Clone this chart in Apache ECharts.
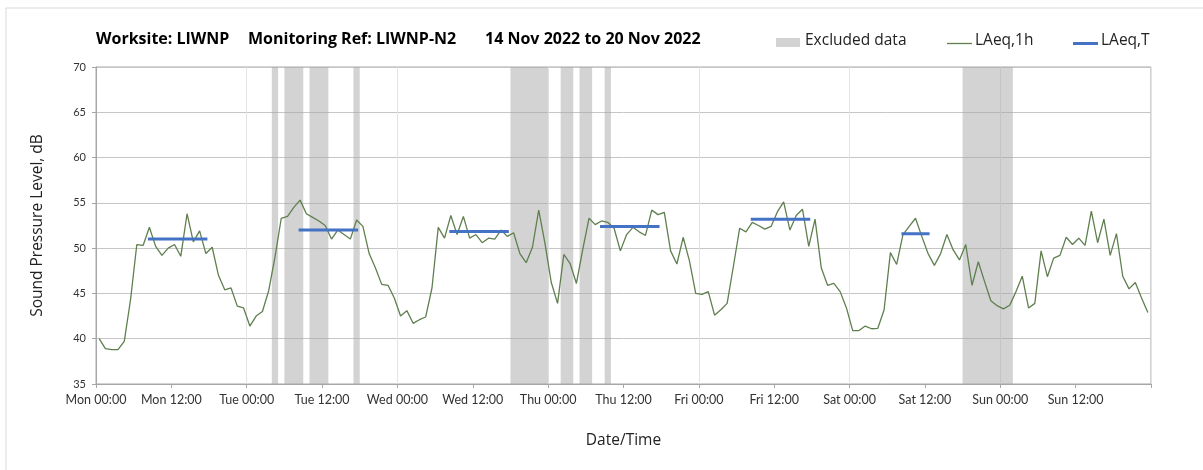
<!DOCTYPE html>
<html>
<head>
<meta charset="utf-8">
<script src="https://cdn.jsdelivr.net/npm/echarts@6/dist/echarts.min.js"></script>
<style>
html,body{margin:0;padding:0;background:#fff;}
#chart{width:1203px;height:470px;}
</style>
</head>
<body>
<div id="chart"></div>
<script>
// ---- data ----
const tickLabels = ['Mon 00:00','Mon 12:00','Tue 00:00','Tue 12:00','Wed 00:00','Wed 12:00',
  'Thu 00:00','Thu 12:00','Fri 00:00','Fri 12:00','Sat 00:00','Sat 12:00','Sun 00:00','Sun 12:00'];

// hourly LAeq,1h values, hour 0 = Mon 00:00-01:00
const laeq1h = [
  40.0,38.9,38.8,38.8,39.7,44.3,50.4,50.3,52.3,50.2,49.2,50.0,50.4,49.1,53.8,50.7,51.9,49.4,50.1,47.0,45.4,45.6,43.6,43.4,
  41.4,42.5,43.0,45.3,49.0,53.3,53.5,54.5,55.3,53.8,53.4,53.0,52.5,51.0,52.0,51.5,51.0,53.1,52.4,49.4,47.8,46.0,45.9,44.5,
  42.5,43.1,41.7,42.1,42.4,45.6,52.3,51.1,53.6,51.5,53.5,51.1,51.5,50.6,51.1,51.0,52.0,51.3,51.7,49.4,48.4,50.1,54.2,50.5,
  46.2,43.9,49.3,48.3,46.1,49.8,53.3,52.6,53.0,52.85,52.2,49.7,51.5,52.3,51.8,51.4,54.2,53.7,53.95,49.7,48.25,51.2,48.6,45.0,
  44.9,45.2,42.6,43.2,43.9,48.0,52.2,51.8,52.85,52.5,52.1,52.4,54.0,55.1,52.0,53.6,54.3,50.2,53.2,47.8,45.9,46.1,45.2,43.4,
  40.9,40.9,41.4,41.1,41.15,43.2,49.5,48.2,51.5,52.4,53.3,51.3,49.4,48.1,49.4,51.5,49.8,48.7,50.4,45.9,48.5,46.3,44.2,43.65,
  43.3,43.7,45.2,46.9,43.4,43.9,49.7,46.85,48.9,49.2,51.2,50.4,51.1,50.3,54.1,50.6,53.2,49.2,51.6,46.9,45.5,46.2,44.5,42.9
];

// LAeq,T periods (first and last hour index) and levels
const ltStartHour = [8, 32, 56, 80, 104, 128];
const ltEndHour   = [17, 41, 65, 89, 113, 132];
const ltValues    = [51.0, 52.0, 51.85, 52.4, 53.2, 51.6];

// Excluded data periods (hours from Mon 00:00)
const exclStart = [28, 30, 34, 41, 66, 74, 77, 81, 138];
const exclEnd   = [29, 33, 37, 42, 72, 76, 79, 82, 146];

// title parts
const titleParts = ['Worksite: LIWNP', 'Monitoring Ref: LIWNP-N2', '14 Nov 2022 to 20 Nov 2022'];
const legendNames = ['Excluded data', 'LAeq,1h', 'LAeq,T'];

// ---- build ----
const FONT = '"Open Sans", Lato, sans-serif';
const LFONT = 'Lato, "Open Sans", sans-serif';
const GREEN = '#5f7f4f', BLUE = '#4472c4', GREY = '#d3d3d3';
const lineData = laeq1h.map((v, h) => [h + 0.5, v]);
const markAreas = exclStart.map((s, i) => [{ xAxis: s }, { xAxis: exclEnd[i] }]);

const series = [
  {
    name: legendNames[0], type: 'line', data: [], color: GREY,
    markArea: { silent: true, itemStyle: { color: 'rgba(168,168,168,0.5)' }, data: markAreas },
    z: 1
  },
  {
    name: legendNames[1], type: 'line', data: lineData, showSymbol: false, symbol: 'none',
    color: GREEN, lineStyle: { width: 1.3, color: GREEN }, z: 3
  }
];
ltValues.forEach((v, i) => {
  series.push({
    name: legendNames[2], type: 'line', symbol: 'none', showSymbol: false,
    color: BLUE, lineStyle: { width: 3, color: BLUE, cap: 'square' },
    data: [[ltStartHour[i] + 0.5, v], [ltEndHour[i] + 0.5, v]], z: 4
  });
});

const titleX = [96, 248, 485];
const graphics = [{
  type: 'rect', shape: { x: 6, y: 8, width: 1300, height: 600 },
  style: { fill: 'none', stroke: '#d9d9d9', lineWidth: 1 }, silent: true, z: -10
}];
titleParts.forEach((t, i) => graphics.push({
  type: 'text', left: titleX[i], top: 31,
  style: { text: t, font: 'bold 16px ' + FONT, fill: '#000' }
}));
// legend (drawn)
graphics.push({ type: 'rect', shape: { x: 776, y: 38, width: 24, height: 9 }, style: { fill: GREY } });
graphics.push({ type: 'text', left: 805, top: 33, style: { text: legendNames[0], font: '15.5px ' + FONT, fill: '#222' } });
graphics.push({ type: 'line', shape: { x1: 947, y1: 43.5, x2: 972, y2: 43.5 }, style: { stroke: GREEN, lineWidth: 1.3 } });
graphics.push({ type: 'text', left: 975, top: 33, style: { text: legendNames[1], font: '15.5px ' + FONT, fill: '#222' } });
graphics.push({ type: 'line', shape: { x1: 1073, y1: 43.5, x2: 1098, y2: 43.5 }, style: { stroke: BLUE, lineWidth: 3 } });
graphics.push({ type: 'text', left: 1101, top: 33, style: { text: legendNames[2], font: '15.5px ' + FONT, fill: '#222' } });

const chart = echarts.init(document.getElementById('chart'), null, { renderer: 'canvas' });
chart.setOption({
  animation: false,
  backgroundColor: '#fff',
  textStyle: { fontFamily: FONT },
  legend: { show: false, data: legendNames },
  graphic: graphics,
  grid: { left: 96, right: 52, top: 67, bottom: 86, show: true, borderColor: '#a6a6a6', borderWidth: 1 },
  xAxis: [
    {
      type: 'value', min: 0, max: 168, interval: 12,
      name: 'Date/Time', nameLocation: 'middle', nameGap: 49,
      nameTextStyle: { fontSize: 15.5, color: '#222', fontFamily: FONT },
      axisLine: { show: true, lineStyle: { color: '#a6a6a6' } },
      axisTick: { show: true, length: 4, lineStyle: { color: '#a6a6a6' } },
      axisLabel: {
        fontSize: 12.5, color: '#333', margin: 9, fontFamily: LFONT,
        formatter: v => (v / 12 < tickLabels.length ? tickLabels[v / 12] : '')
      },
      splitLine: { show: false }
    },
    {
      type: 'value', min: 0, max: 168, interval: 24, position: 'bottom',
      axisLine: { show: false }, axisTick: { show: false }, axisLabel: { show: false },
      splitLine: { show: true, lineStyle: { color: '#e3e3e3', width: 1 } }
    }
  ],
  yAxis: {
    type: 'value', min: 35, max: 70, interval: 5,
    name: 'Sound Pressure Level, dB', nameLocation: 'middle', nameGap: 50,
    nameTextStyle: { fontSize: 15.5, color: '#222', fontFamily: FONT },
    axisLine: { show: true, lineStyle: { color: '#a6a6a6' } },
    axisTick: { show: true, length: 4, lineStyle: { color: '#a6a6a6' } },
    axisLabel: { fontSize: 11, color: '#333', margin: 10, fontFamily: LFONT },
    splitLine: { show: true, lineStyle: { color: '#c6c6c6' } }
  },
  series: series
});
</script>
</body>
</html>
